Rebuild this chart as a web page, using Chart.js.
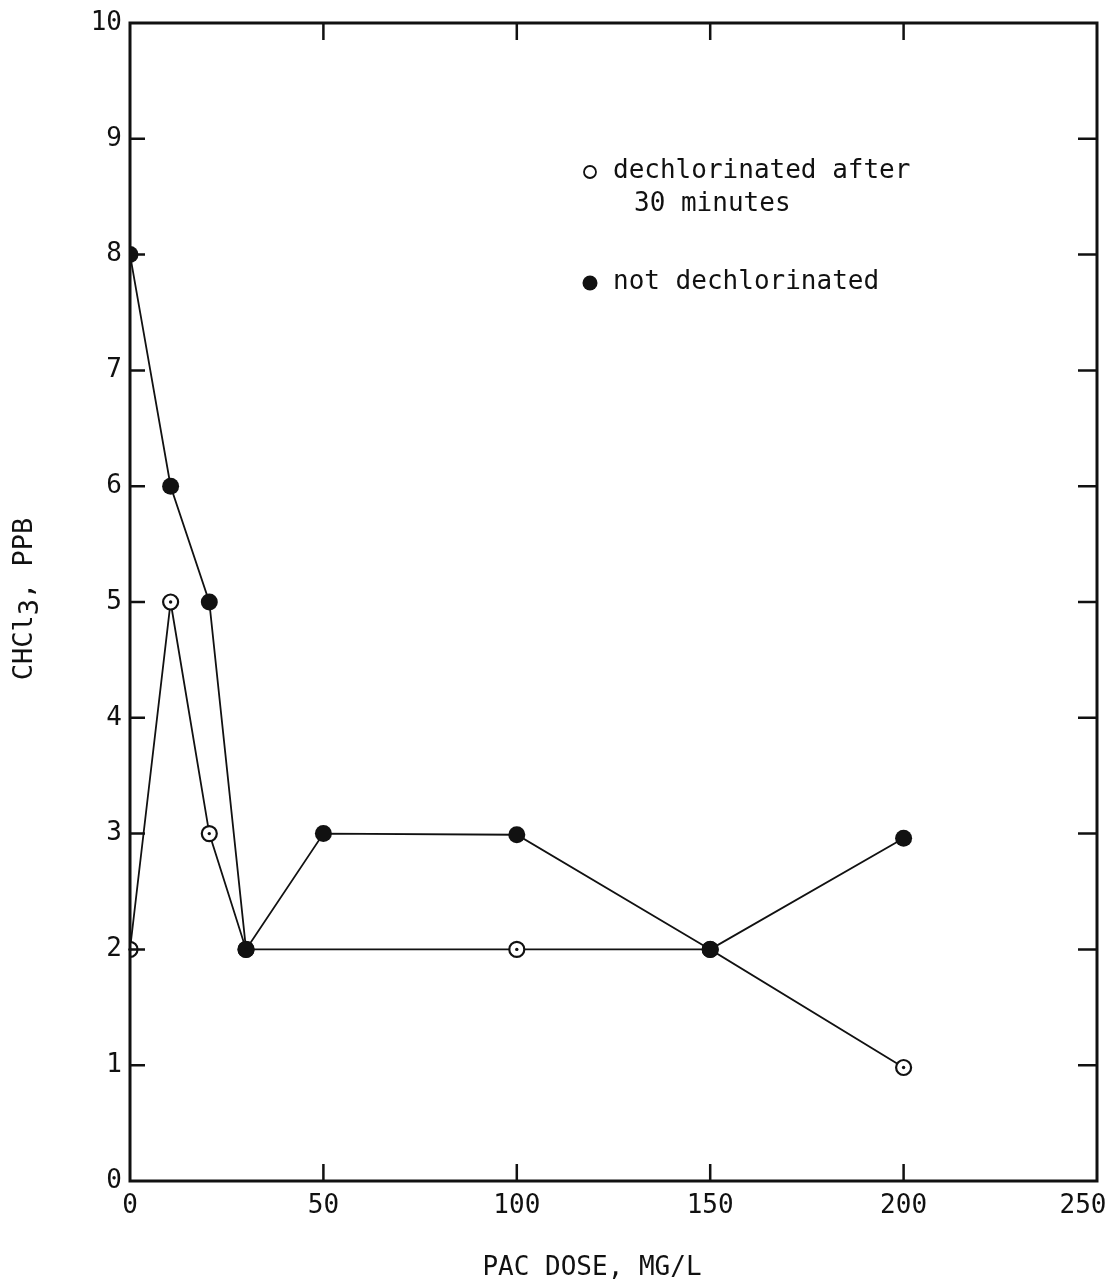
<!DOCTYPE html>
<html>
<head>
<meta charset="utf-8">
<script src="https://cdn.jsdelivr.net/npm/chart.js@4.4.1/dist/chart.umd.min.js"></script>
<style>
  body { margin: 0; background: #fff; }
  #wrap { width: 1111px; height: 1285px; }
</style>
</head>
<body>
<div id="wrap"><canvas id="pacChart" width="1111" height="1285"></canvas></div>
<script>
// PAC dose (mg/L) and chloroform (ppb) for both runs
const dechlorDose = [0, 10.5, 20.5, 30, 100, 150, 200];
const dechlorChcl3 = [2, 5, 3, 2, 2, 2, 0.98];
const notDechlorDose = [0, 10.5, 20.5, 30, 50, 100, 150, 200];
const notDechlorChcl3 = [8, 6, 5, 2, 3, 2.99, 2, 2.96];

const xTitle = "PAC DOSE, MG/L";
const yTitleParts = ["CHCl", "3", ", PPB"];
const legendOpen = ["dechlorinated after", "30 minutes"];
const legendFilled = "not dechlorinated";

const monoFont = "'DejaVu Sans Mono', 'Liberation Mono', monospace";
const ink = "#111";

function toPoints(xs, ys) {
    return xs.map(function(x, i) { return { x: x, y: ys[i] }; });
}

// frame, inward tick marks, dots in the open markers, legend and axis titles
const framePlugin = {
    id: "frame",
    beforeDraw(chart) {
        // pull the last x label back so it isn't cut by the canvas edge
        const items = chart.scales.x.getLabelItems(chart.chartArea);
        const last = items[items.length - 1];
        if (last && !last._shifted) {
            last.options.translation[0] -= 14;
            last._shifted = true;
        }
    },
    afterDatasetsDraw(chart) {
        const ctx = chart.ctx;
        const meta = chart.getDatasetMeta(0);
        ctx.save();
        ctx.fillStyle = ink;
        meta.data.forEach(function(pt) {
            ctx.beginPath();
            ctx.arc(pt.x, pt.y, 1.7, 0, Math.PI * 2);
            ctx.fill();
        });
        ctx.restore();
    },
    afterDraw(chart) {
        const ctx = chart.ctx;
        const area = chart.chartArea;
        const xs = chart.scales.x, ys = chart.scales.y;
        ctx.save();
        ctx.strokeStyle = ink;
        ctx.lineWidth = 3;
        ctx.strokeRect(area.left, area.top, area.right - area.left, area.bottom - area.top);

        ctx.lineWidth = 2.5;
        const tickLen = 17;
        ctx.beginPath();
        xs.ticks.forEach(function(t) {
            if (t.value <= xs.min || t.value >= xs.max) return;
            const px = xs.getPixelForValue(t.value);
            ctx.moveTo(px, area.top);
            ctx.lineTo(px, area.top + tickLen);
            ctx.moveTo(px, area.bottom);
            ctx.lineTo(px, area.bottom - tickLen);
        });
        ys.ticks.forEach(function(t) {
            if (t.value <= ys.min || t.value >= ys.max) return;
            const py = ys.getPixelForValue(t.value);
            ctx.moveTo(area.left, py);
            ctx.lineTo(area.left + tickLen - 2, py);
            ctx.moveTo(area.right, py);
            ctx.lineTo(area.right - tickLen - 2, py);
        });
        ctx.stroke();

        // legend
        ctx.fillStyle = ink;
        ctx.font = "26px " + monoFont;
        ctx.textBaseline = "middle";
        ctx.textAlign = "left";
        const lx = 590, tx = 613;
        ctx.lineWidth = 1.8;
        ctx.beginPath();
        ctx.arc(lx, 172, 6, 0, Math.PI * 2);
        ctx.stroke();
        ctx.fillText(legendOpen[0], tx, 171);
        ctx.fillText(legendOpen[1], tx + 21, 204);
        ctx.beginPath();
        ctx.arc(lx, 283, 7.5, 0, Math.PI * 2);
        ctx.fill();
        ctx.fillText(legendFilled, tx, 282);

        // axis titles
        ctx.textAlign = "center";
        ctx.font = "26px " + monoFont;
        ctx.fillText(xTitle, 592, 1268);

        // y title, with the subscript 3 dropped a little
        ctx.translate(25, 599);
        ctx.rotate(-Math.PI / 2);
        ctx.font = "27px " + monoFont;
        ctx.textAlign = "left";
        const widths = yTitleParts.map(function(s) { return ctx.measureText(s).width; });
        let x0 = -(widths[0] + widths[1] + widths[2]) / 2;
        ctx.fillText(yTitleParts[0], x0, 0);
        ctx.fillText(yTitleParts[1], x0 + widths[0], 6);
        ctx.fillText(yTitleParts[2], x0 + widths[0] + widths[1], 0);
        ctx.restore();
    }
};

window.onload = function() {
    const context = document.getElementById("pacChart").getContext("2d");
    new Chart(context, {
        type: "line",
        data: {
            datasets: [{
                label: "dechlorinated after 30 minutes",
                data: toPoints(dechlorDose, dechlorChcl3),
                borderColor: ink,
                borderWidth: 1.8,
                pointRadius: 7.5,
                pointBorderWidth: 2.2,
                pointBackgroundColor: "#fff",
                pointBorderColor: ink,
                clip: 0,
                order: 2
            }, {
                label: "not dechlorinated",
                data: toPoints(notDechlorDose, notDechlorChcl3),
                borderColor: ink,
                borderWidth: 1.8,
                pointRadius: 8.5,
                pointBorderWidth: 0,
                pointBackgroundColor: ink,
                pointBorderColor: ink,
                clip: 0,
                order: 1
            }]
        },
        options: {
            responsive: false,
            animation: false,
            layout: { padding: { top: 23, right: 14, left: 0, bottom: 0 } },
            plugins: {
                legend: { display: false },
                tooltip: { enabled: false }
            },
            scales: {
                x: {
                    type: "linear",
                    min: 0,
                    max: 250,
                    grid: { display: false, drawTicks: false },
                    border: { display: false },
                    ticks: {
                        stepSize: 50,
                        padding: 10,
                        color: ink,
                        font: { family: monoFont, size: 26 }
                    },
                    afterFit(scale) {
                        scale.height = 104;
                        scale.paddingLeft = 0;
                        scale.paddingRight = 0;
                    }
                },
                y: {
                    min: 0,
                    max: 10,
                    grid: { display: false, drawTicks: false },
                    border: { display: false },
                    ticks: {
                        stepSize: 1,
                        padding: 8,
                        color: ink,
                        font: { family: monoFont, size: 26 }
                    },
                    afterFit(scale) {
                        scale.width = 130;
                        scale.paddingTop = 0;
                        scale.paddingBottom = 0;
                    }
                }
            }
        },
        plugins: [framePlugin]
    });
};
</script>
</body>
</html>
